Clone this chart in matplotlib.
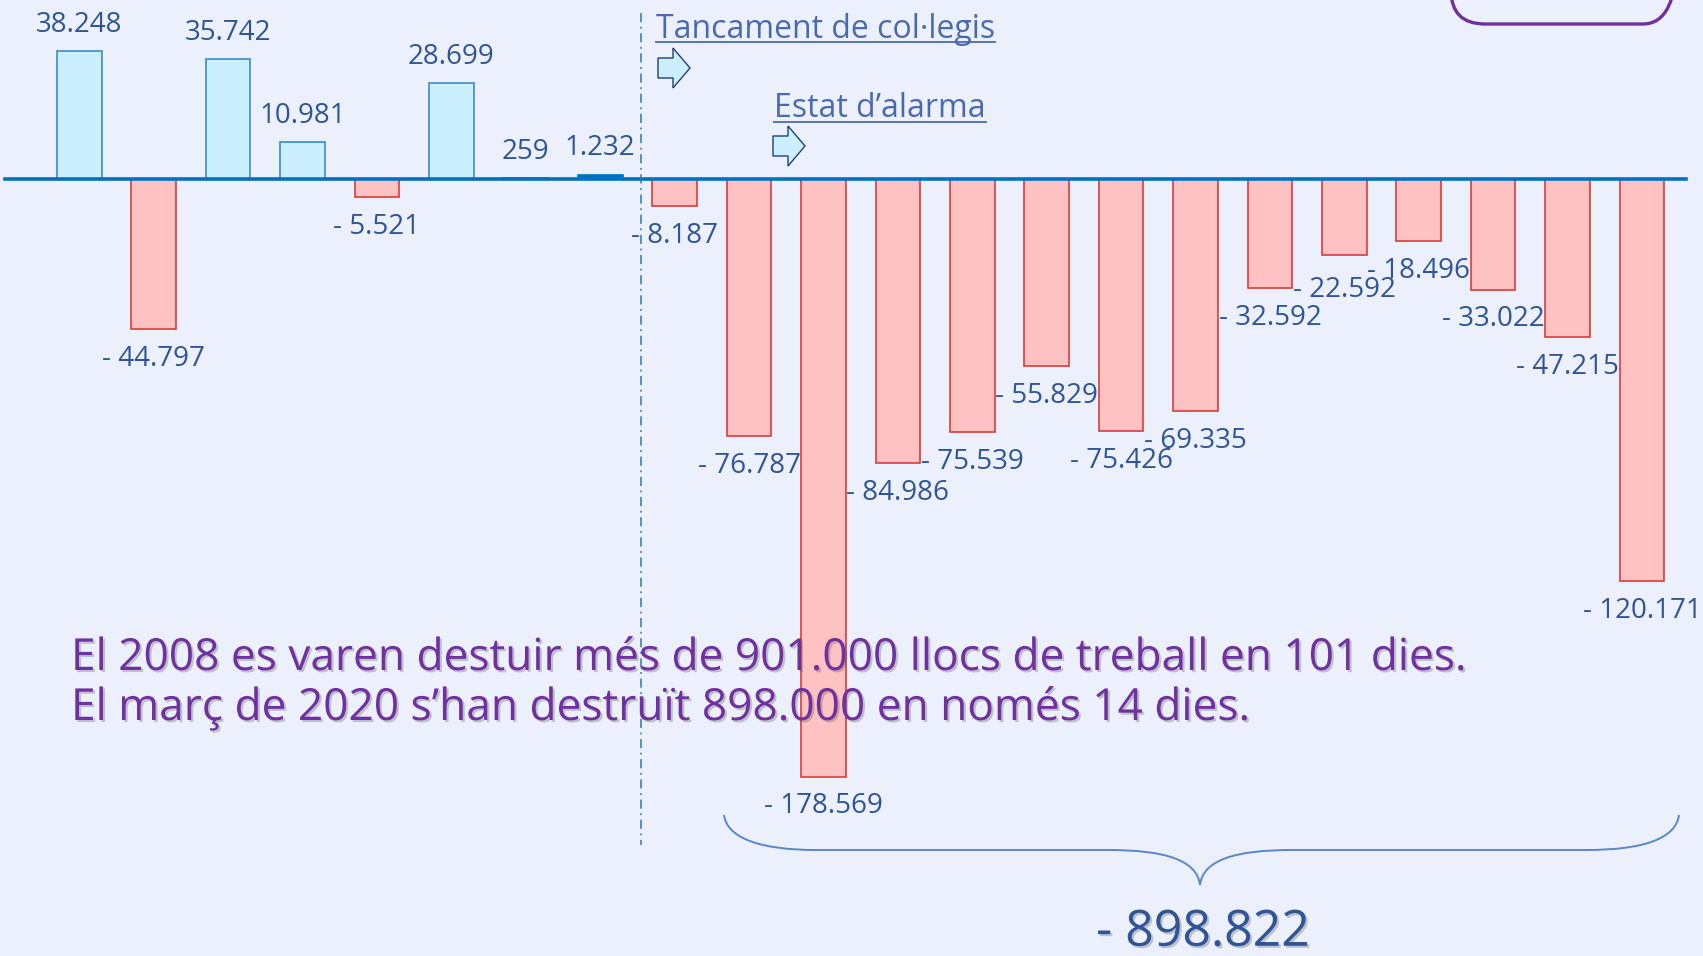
import matplotlib
matplotlib.use('Agg')
import matplotlib.pyplot as plt
from matplotlib.patches import FancyBboxPatch, Polygon, PathPatch
from matplotlib.path import Path
from matplotlib.lines import Line2D
from matplotlib.transforms import Bbox
import matplotlib.patheffects as pe

# ---------------- data ----------------
values = [38248, -44797, 35742, 10981, -5521, 28699, 259, 1232,
          -8187, -76787, -178569, -84986, -75539, -55829, -75426, -69335,
          -32592, -22592, -18496, -33022, -47215, -120171]
total_value = -898822
note_closure = "Tancament de col·legis"
note_alarm = "Estat d’alarma"
message_lines = ["El 2008 es varen destuir més de 901.000 llocs de treball en 101 dies.",
                 "El març de 2020 s’han destruït 898.000 en només 14 dies."]


def fmt(v):
    s = f"{abs(v):,}".replace(",", ".")
    return ("- " + s) if v < 0 else s


# ---------------- style ----------------
W, H, DPI = 1703, 956, 100
BG = '#ECF0FC'
POS_FACE, POS_EDGE = '#CCEFFF', '#3A8AD0'
NEG_FACE, NEG_EDGE = '#FFC2C2', '#DD3A3A'
AXIS_BLUE = '#0070C0'
LABEL_COL = '#2F5597'
NOTE_COL = '#4A6AAE'
PURPLE = '#7030A0'
FONT = ['Open Sans', 'DejaVu Sans']
plt.rcParams['font.family'] = FONT

fig = plt.figure(figsize=(W / DPI, H / DPI), dpi=DPI, facecolor=BG)
ax = fig.add_axes([0, 0, 1, 1], facecolor='none')
ax.set_xlim(-1.066, 21.82)
ax.set_ylim(-232170, 53480)
ax.axis('off')

deco = fig.add_axes([0, 0, 1, 1], facecolor='none')
deco.set_xlim(0, W)
deco.set_ylim(H, 0)
deco.axis('off')

x = list(range(len(values)))
faces, edges = [], []
for v in values:
    if abs(v) < 2000:
        faces.append(AXIS_BLUE); edges.append(AXIS_BLUE)
    elif v > 0:
        faces.append(POS_FACE); edges.append(POS_EDGE)
    else:
        faces.append(NEG_FACE); edges.append(NEG_EDGE)

ax.bar(x, values, width=0.6, color=faces, edgecolor=edges, linewidth=1.2, zorder=2)
ax.axhline(0, xmin=5 / W, xmax=1686 / W, color=AXIS_BLUE, lw=2.6, zorder=3)

labels = []
for xi, v in zip(x, values):
    off = 19 if v >= 0 else -21.5
    a = ax.annotate(fmt(v), (xi, v), xytext=(0, off), textcoords='offset points',
                    ha='center', va='center', fontsize=20, color=LABEL_COL, zorder=4)
    labels.append(a)

# vertical dash-dot line (school closure)
deco.plot([641, 641], [13, 845], color='#2E75B6', lw=1.1,
          dashes=(6, 3, 1.2, 3), zorder=1)

# annotations with arrows
t1 = deco.text(656, 38, note_closure, ha='left', va='baseline', fontsize=23, color=NOTE_COL)
t2 = deco.text(774, 117, note_alarm, ha='left', va='baseline', fontsize=23, color=NOTE_COL)


def block_arrow(x0, y0):
    pts = [(x0, y0 + 10), (x0 + 15, y0 + 10), (x0 + 15, y0), (x0 + 32, y0 + 20),
           (x0 + 15, y0 + 40), (x0 + 15, y0 + 30), (x0, y0 + 30)]
    deco.add_patch(Polygon(pts, closed=True, facecolor=POS_FACE, edgecolor='#1F3F7A', lw=1.0))


block_arrow(658, 48)
block_arrow(773, 126)

# purple rounded box (partly off the top)
deco.add_patch(FancyBboxPatch((1451, -80), 226, 104,
                              boxstyle='round,pad=0,rounding_size=34',
                              facecolor='none', edgecolor=PURPLE, lw=2.4))

# brace
verts = [(724, 815), (727, 838), (760, 850), (816, 850),
         (1108, 850),
         (1165, 850), (1197, 860), (1200, 885),
         (1203, 860), (1235, 850), (1292, 850),
         (1586, 850),
         (1645, 850), (1676, 838), (1679, 815)]
codes = [Path.MOVETO, Path.CURVE4, Path.CURVE4, Path.CURVE4,
         Path.LINETO,
         Path.CURVE4, Path.CURVE4, Path.CURVE4,
         Path.CURVE4, Path.CURVE4, Path.CURVE4,
         Path.LINETO,
         Path.CURVE4, Path.CURVE4, Path.CURVE4]
deco.add_patch(PathPatch(Path(verts, codes), facecolor='none', edgecolor='#5A86CC', lw=1.4))

shadow = [pe.SimplePatchShadow(offset=(1.5, -1.5), shadow_rgbFace='#555555', alpha=0.3), pe.Normal()]

deco.text(1203, 933, fmt(total_value), ha='center', va='center', fontsize=36,
          color=LABEL_COL, path_effects=shadow)

m1 = deco.text(71, 670, message_lines[0], ha='left', va='baseline', fontsize=30,
               color=PURPLE, path_effects=shadow, zorder=5)
m2 = deco.text(71, 720, message_lines[1], ha='left', va='baseline', fontsize=30,
               color=PURPLE, path_effects=shadow, zorder=5)

# fit message width to reference
fig.canvas.draw()
r = fig.canvas.get_renderer()
wid = m1.get_window_extent(r).width
fs = 30 * 1396 / wid
m1.set_fontsize(fs)
m2.set_fontsize(fs)


def ink(a):
    b = a.get_window_extent(r)
    h = b.height
    return Bbox.from_extents(b.x0, b.y0 + 0.19 * h, b.x1, b.y0 + 0.76 * h)


# push apart neighbouring value labels whose digits would collide
fig.canvas.draw()
for i in range(1, len(labels)):
    a, b = labels[i - 1], labels[i]
    ia, ib = ink(a), ink(b)
    if ia.overlaps(ib):
        lower = a if values[i - 1] < values[i] else b
        other = b if lower is a else a
        lo, ot = ink(lower), ink(other)
        shift_px = (lo.y1 - ot.y0) + 3
        ox, oy = lower.xyann
        lower.xyann = (ox, oy - shift_px * 72 / DPI)
        fig.canvas.draw()

# underlines for notes
for t, yb in ((t1, 42), (t2, 122)):
    bb = t.get_window_extent(r)
    yd = H - yb
    fig.add_artist(Line2D([bb.x0, bb.x1], [yd, yd], transform=None, color=NOTE_COL, lw=1.3))

fig.savefig('out.png', dpi=DPI, facecolor=BG)
